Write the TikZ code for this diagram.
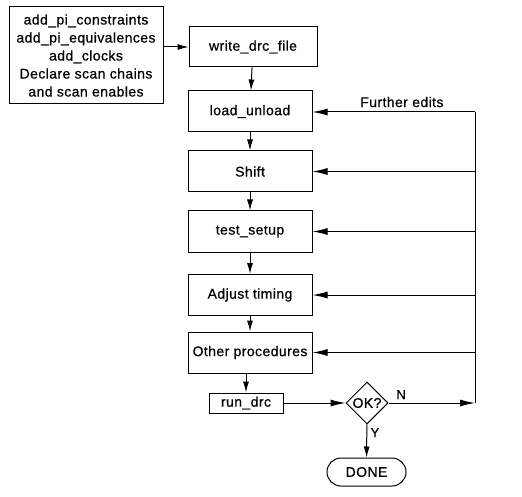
\documentclass[tikz,border=0pt]{standalone}
\usepackage{fontspec}
\setmainfont{Liberation Sans}[FakeBold=0.6,LetterSpace=3]
\usepackage{tikz}
\usetikzlibrary{shapes.geometric}
\usetikzlibrary{arrows.meta}

\begin{document}
\begin{tikzpicture}[x=1pt,y=-1pt,line width=1pt,>={Latex[length=11pt,width=6pt]},
    every node/.style={font=\fontsize{14}{18}\selectfont},
    stepbox/.style={rectangle,draw=black,minimum width=124pt,minimum height=41pt,align=center,inner sep=0pt},
    notebox/.style={rectangle,draw=black,minimum width=154pt,minimum height=97pt,align=center,inner sep=0pt},
    testbox/.style={diamond,draw=black,minimum width=42pt,minimum height=42pt,inner sep=0pt},
    endbox/.style={rectangle,draw=black,rounded corners=14pt,minimum width=79pt,minimum height=28pt,inner sep=0pt},
    back/.style={-{Latex[length=15pt,width=7pt]}}]
    \useasboundingbox (0,0) rectangle (522,497);
    %
    \node[notebox] (notes) at (86,55.5) {add\_pi\_constraints\\add\_pi\_equivalences\\add\_clocks\\Declare scan chains\\and scan enables};
    \node[stepbox,minimum width=128pt,minimum height=40pt] (write) at (253,47) {write\_drc\_file};
    \node[stepbox] (load) at (250,111.5) {load\_unload};
    \node[stepbox] (shift) at (250,171.5) {Shift};
    \node[stepbox] (setup) at (250,231.5) {test\_setup};
    \node[stepbox] (timing) at (250,295) {Adjust timing};
    \node[stepbox] (other) at (250,352.5) {Other procedures};
    \node[stepbox,minimum width=74pt,minimum height=20pt] (run) at (246,403) {run\_drc};
    \node[testbox] (ok) at (367,403) {OK?};
    \node[endbox] (done) at (366.5,472) {DONE};
    %
    \coordinate (edit_top) at (475,112);
    \coordinate (edit_bot) at (475,403);
    %
    \draw[->] (notes.east |- write.west) to (write.west);
    \draw[->] (write) to (load);
    \draw[->] (load) to (shift);
    \draw[->] (shift) to (setup);
    \draw[->] (setup) to (timing);
    \draw[->] (timing) to (other);
    \draw[->] (other.south -| run.north) to (run.north);
    \draw[back] (run) to (ok);
    \draw[->] (ok) to node[right, pos=0.25, font=\fontsize{13}{13}\selectfont] {Y} (done);
    %
    \draw[back] (ok) to node[above, pos=0.1, xshift=4pt, font=\fontsize{13}{13}\selectfont] {N} (edit_bot);
    \draw (edit_bot) to (edit_top);
    \draw[back] (edit_top) to node[above, pos=0.45, yshift=1pt] {Further edits} (edit_top -| load.east);
    \draw[back] (edit_top |- shift) to (shift);
    \draw[back] (edit_top |- setup) to (setup);
    \draw[back] (edit_top |- timing) to (timing);
    \draw[back] (edit_top |- other) to (other);
\end{tikzpicture}
\end{document}
